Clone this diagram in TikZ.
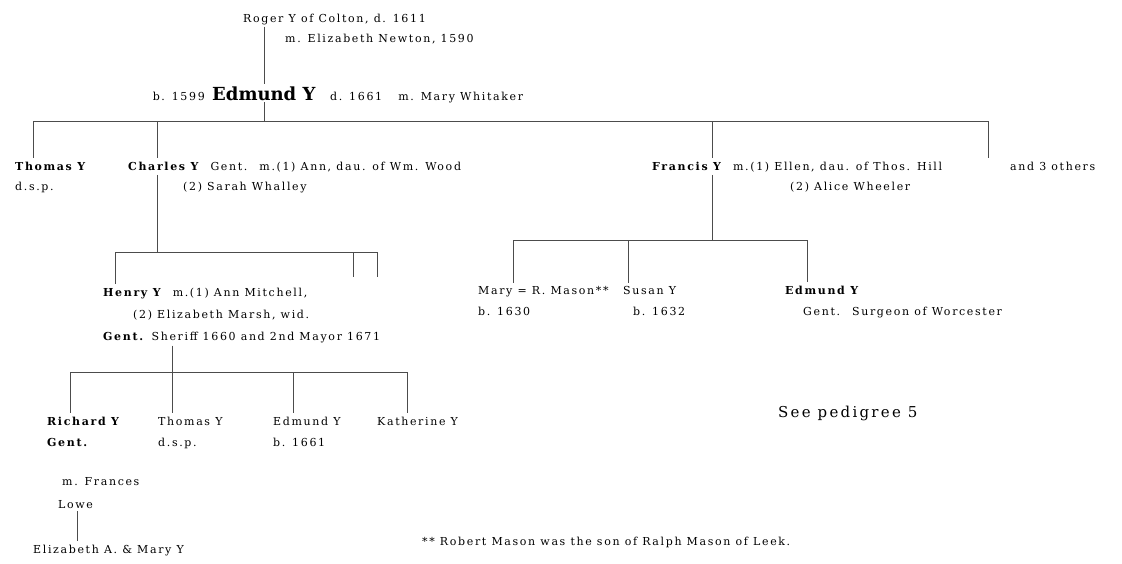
\documentclass[tikz,border=0pt]{standalone}
\usepackage{fontspec}
\setmainfont{DejaVu Serif}[LetterSpace=15]
\newfontfamily\bigfont{DejaVu Serif}
\begin{document}
\begin{tikzpicture}[x=1pt,y=-1pt,
  t/.style={anchor=base west, inner sep=0pt, font=\fontsize{11}{13}\selectfont},
  big/.style={t, font=\bigfont\fontsize{18}{22}\selectfont\bfseries},
  ln/.style={line width=0.25pt, black!70},
  drop/.style={ln, shorten >=3pt}]
\useasboundingbox (0,0) rectangle (1122,563);
% top
\node[t] (r1) at (243,22) {Roger Y of Colton, d. 1611};
\node[t] (r2) at (285,42) {m. Elizabeth Newton, 1590};
\node[big] (edm) at (212,100) {Edmund Y};
\node[t, anchor=base east] (edmb) at (205,100) {b. 1599};
\node[t] (edmd) at (330,100) {d. 1661 \quad m. Mary Whitaker};
\coordinate (v0) at (264,0);
\draw[ln, shorten <=2pt, shorten >=2pt] (v0 |- r1.south) -- (v0 |- edm.north);
% generation 1
\node[t] (tho) at (15,170) {\textbf{Thomas Y}};
\node[t] (tho2) at (15,190) {d.s.p.};
\node[t] (cha) at (128,170) {\textbf{Charles Y} \ Gent. \ m.(1) Ann, dau. of Wm. Wood};
\node[t] (cha2) at (183,190) {(2) Sarah Whalley};
\node[t] (fra) at (652,170) {\textbf{Francis Y} \ m.(1) Ellen, dau. of Thos. Hill};
\node[t] (fra2) at (790,190) {(2) Alice Wheeler};
\node[t] (oth) at (1010,170) {and 3 others};
\coordinate (b1l) at (33,121);
\coordinate (b1r) at (988,121);
\coordinate (b1m) at (264,121);
\coordinate (b1c) at (157,121);
\coordinate (b1f) at (712,121);
\draw[ln] (b1l) -- (b1r);
\draw[ln, shorten <=2pt] (edm.south -| b1m) -- (b1m);
\draw[drop] (b1l) -- (b1l |- tho.north);
\draw[drop] (b1c) -- (b1c |- cha.north);
\draw[drop] (b1f) -- (b1f |- fra.north);
\draw[drop] (b1r) -- (b1r |- oth.north);
% children of Charles
\coordinate (b2l) at (115,252);
\coordinate (b2c) at (157,252);
\coordinate (b2a) at (353,252);
\coordinate (b2r) at (377,252);
\draw[ln] (b2l) -- (b2r);
\draw[ln, shorten <=3pt] (b2c |- cha.south) -- (b2c);
\node[t] (hen) at (103,296) {\textbf{Henry Y} \ m.(1) Ann Mitchell,};
\node[t] (hen2) at (133,318) {(2) Elizabeth Marsh, wid.};
\node[t] (hen3) at (103,340) {\textbf{Gent.} Sheriff 1660 and 2nd Mayor 1671};
\draw[drop] (b2l) -- (b2l |- hen.north);
\draw[ln] (b2a) -- ++(0,25);
\draw[ln] (b2r) -- ++(0,25);
% children of Francis
\coordinate (b3l) at (513,240);
\coordinate (b3m) at (628,240);
\coordinate (b3f) at (712,240);
\coordinate (b3r) at (807,240);
\draw[ln] (b3l) -- (b3r);
\draw[ln, shorten <=3pt] (b3f |- fra.south) -- (b3f);
\node[t] (mar) at (478,294) {Mary = R. Mason**};
\node[t] (mar2) at (478,315) {b. 1630};
\node[t] (sus) at (623,294) {Susan Y};
\node[t] (sus2) at (633,315) {b. 1632};
\node[t] (ed2) at (785,294) {\textbf{Edmund Y}};
\node[t] (ed22) at (803,315) {Gent. \ Surgeon of Worcester};
\draw[drop] (b3l) -- (b3l |- mar.north);
\draw[drop] (b3m) -- (b3m |- sus.north);
\draw[drop] (b3r) -- (b3r |- ed2.north);
\node[t, font=\fontsize{15}{18}\selectfont] (see) at (778,417) {See pedigree 5};
% children of Henry
\coordinate (b4l) at (70,372);
\coordinate (b4h) at (172,372);
\coordinate (b4e) at (293,372);
\coordinate (b4r) at (407,372);
\draw[ln] (b4l) -- (b4r);
\draw[ln, shorten <=3pt] (b4h |- hen3.south) -- (b4h);
\node[t] (ric) at (47,425) {\textbf{Richard Y}};
\node[t] (ric2) at (47,446) {\textbf{Gent.}};
\node[t] (ric3) at (62,485) {m. Frances};
\node[t] (ric4) at (58,508) {Lowe};
\node[t] (th3) at (158,425) {Thomas Y};
\node[t] (th32) at (158,446) {d.s.p.};
\node[t] (ed3) at (273,425) {Edmund Y};
\node[t] (ed32) at (273,446) {b. 1661};
\node[t] (kat) at (377,425) {Katherine Y};
\draw[drop] (b4l) -- (b4l |- ric.north);
\draw[drop] (b4h) -- (b4h |- th3.north);
\draw[drop] (b4e) -- (b4e |- ed3.north);
\draw[drop] (b4r) -- (b4r |- kat.north);
% bottom
\node[t] (eli) at (33,553) {Elizabeth A. \& Mary Y};
\coordinate (v5) at (77,0);
\draw[ln, shorten <=3pt, shorten >=3pt] (v5 |- ric4.south) -- (v5 |- eli.north);
\node[t] (note) at (422,545) {** Robert Mason was the son of Ralph Mason of Leek.};
\end{tikzpicture}
\end{document}
